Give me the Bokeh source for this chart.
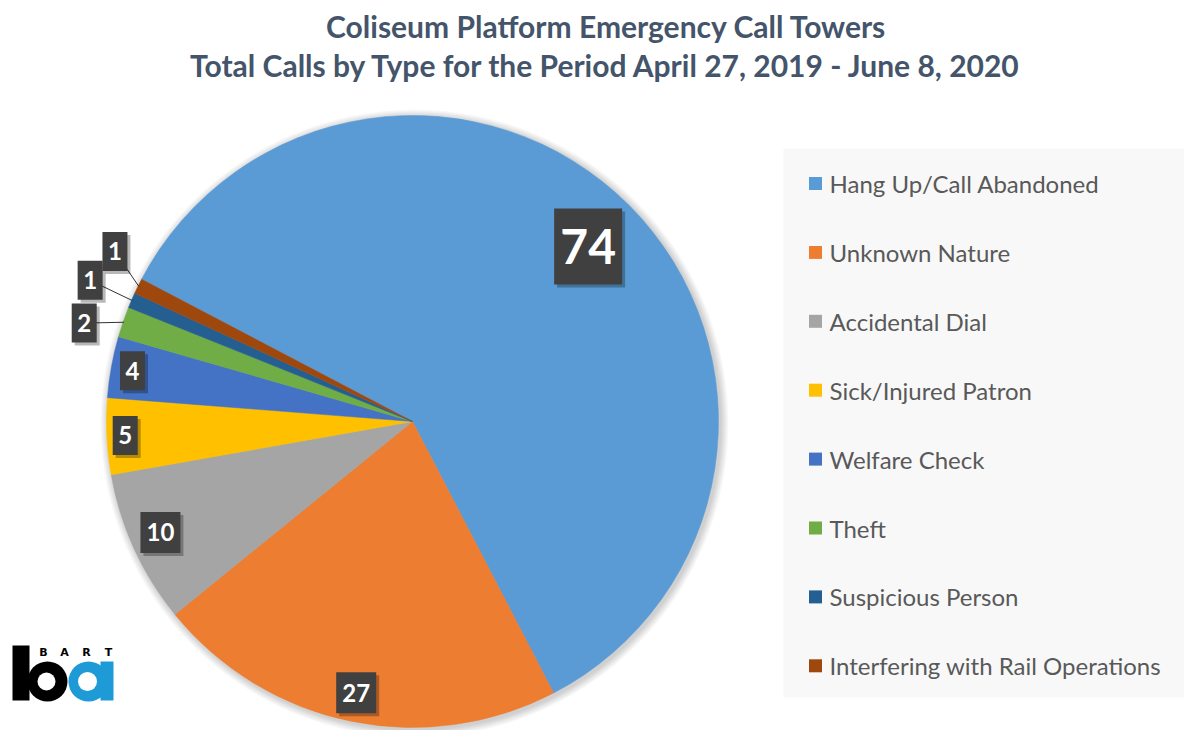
import math
from bokeh.plotting import figure
from bokeh.models import Range1d
from bokeh.embed import file_html
from bokeh.resources import INLINE
from bokeh.core.properties import value

# ---------------- data ----------------
categories = [
    "Hang Up/Call Abandoned",
    "Unknown Nature",
    "Accidental Dial",
    "Sick/Injured Patron",
    "Welfare Check",
    "Theft",
    "Suspicious Person",
    "Interfering with Rail Operations",
]
counts = [74, 27, 10, 5, 4, 2, 1, 1]
colors = ["#5B9BD5", "#ED7D31", "#A5A5A5", "#FFC000",
          "#4472C4", "#70AD47", "#255E91", "#9E480E"]
title_lines = [
    "Coliseum Platform Emergency Call Towers",
    "Total Calls by Type for the Period April 27, 2019 - June 8, 2020",
]

# ---------------- layout ----------------
W, H = 1184, 730
FONT = "Lato"


def px(x):
    return x


def py(y):
    return H - y


p = figure(width=W, height=H, x_range=Range1d(0, W), y_range=Range1d(0, H),
           output_backend="svg", toolbar_location=None, min_border=0)
p.axis.visible = False
p.grid.visible = False
p.outline_line_color = None
p.background_fill_color = "white"
p.border_fill_color = "white"

# title
for i, t in enumerate(title_lines):
    p.text(x=[px(606)], y=[py(25 + 39 * i)], text=[t], text_align="center",
           text_baseline="middle", text_font=value(FONT), text_font_style="bold",
           text_font_size="30px", text_color="#44546A")

# pie geometry
CX, CY, R = px(412), py(421), 306
first_angle = 297.7  # degrees clockwise from 12 o'clock
total = float(sum(counts))

# soft shadow
for k in range(1, 9):
    p.circle(x=[CX + 2], y=[CY - 2], radius=R + k, radius_units="screen",
             fill_color="black", fill_alpha=0.022, line_color=None)

starts, ends, mids = [], [], []
c = first_angle
for v in counts:
    span = 360.0 * v / total
    starts.append(c)
    ends.append(c + span)
    mids.append(c + span / 2)
    c += span

for s, e, col in zip(starts, ends, colors):
    p.wedge(x=[CX], y=[CY], radius=R, radius_units="screen",
            start_angle=math.radians(90 - e), end_angle=math.radians(90 - s),
            direction="anticlock", fill_color=col, line_color=col, line_width=0.5)

# data labels
label_r = [0.81, 0.905, 0.90, 0.94, 0.93, 1.12, 1.15, 1.12]
label_nudge = [0, 0, 0.8, 0, 0, -2.3, 0.3, 3.5]
outside = [False, False, False, False, False, True, True, True]
for i, v in enumerate(counts):
    a = math.radians(mids[i] + label_nudge[i])
    lx = CX + label_r[i] * R * math.sin(a)
    ly = CY + label_r[i] * R * math.cos(a)
    if outside[i]:
        am = math.radians(mids[i])
        ex = CX + (R - 1) * math.sin(am)
        ey = CY + (R - 1) * math.cos(am)
        p.line(x=[lx, ex], y=[ly, ey], line_color="#333333", line_width=1)
    txt = str(v)
    if v >= 50:
        bw, bh, fs = 68, 76, "48px"
    elif len(txt) == 2:
        bw, bh, fs = 40, 41, "24px"
    else:
        bw, bh, fs = 25, 39, "24px"
    p.rect(x=[lx + 3], y=[ly - 3], width=bw, height=bh, width_units="screen",
           height_units="screen", fill_color="black", fill_alpha=0.28, line_color=None)
    p.rect(x=[lx], y=[ly], width=bw, height=bh, width_units="screen",
           height_units="screen", fill_color="#404040", line_color=None)
    p.text(x=[lx], y=[ly], text=[txt], text_align="center", text_baseline="middle",
           text_font=value(FONT), text_font_style="bold", text_font_size=fs,
           text_color="white")

# legend
p.quad(left=[px(783)], right=[px(1190)], top=[py(148)], bottom=[py(697)],
       fill_color="#F8F8F8", line_color=None)
for i, (name, col) in enumerate(zip(categories, colors)):
    yy = py(183 + i * 68.9)
    p.scatter(x=[px(815)], y=[yy], marker="square", size=13, fill_color=col,
              line_color=None)
    p.text(x=[px(829)], y=[yy], text=[name], text_align="left", text_baseline="middle",
           text_font=value(FONT), text_font_size="24px", text_color="#595959")

# BART logo
BLUE = "#1E9BD7"
p.quad(left=[px(12)], right=[px(29)], top=[py(645)], bottom=[py(700)],
       fill_color="black", line_color=None)
p.circle(x=[px(47)], y=[py(681)], radius=20, radius_units="screen",
         fill_color="black", line_color=None)
p.circle(x=[px(88)], y=[py(681)], radius=20, radius_units="screen",
         fill_color=BLUE, line_color=None)
p.quad(left=[px(100)], right=[px(113)], top=[py(661)], bottom=[py(700)],
       fill_color=BLUE, line_color=None)
p.circle(x=[px(46)], y=[py(681)], radius=9, radius_units="screen",
         fill_color="white", line_color=None)
p.circle(x=[px(87)], y=[py(681)], radius=9.5, radius_units="screen",
         fill_color="white", line_color=None)
for ch, xx in zip("BART", [43, 64, 86, 108]):
    p.text(x=[px(xx)], y=[py(652)], text=[ch], text_align="center",
           text_baseline="middle", text_font=value("DejaVu Sans"),
           text_font_style="bold", text_font_size="11px", text_color="black")

open("out.html", "w").write(file_html(p, INLINE))
